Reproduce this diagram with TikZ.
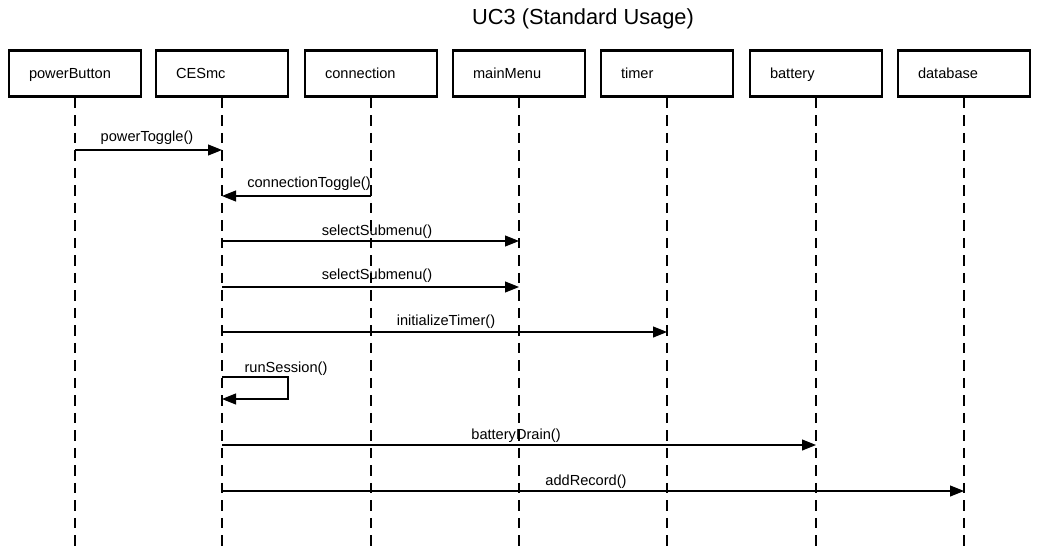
\documentclass[tikz,border=0pt]{standalone}
\usepackage{fontspec}
\setmainfont{Liberation Sans}
\usetikzlibrary{arrows.meta}
\begin{document}
\begin{tikzpicture}[x=1pt,y=-1pt,
  objbox/.style={draw=black,line width=2.6pt,minimum width=132pt,minimum height=46pt,inner sep=0pt,text width=92pt,align=left,font=\fontsize{14.6}{17}\selectfont},
  lifeline/.style={line width=1.3pt,dash pattern=on 10.5pt off 7pt},
  msg/.style={line width=1.1pt,-{Triangle[length=14pt,width=11pt]}},
  lbl/.style={font=\fontsize{14.6}{17}\selectfont,inner sep=0pt,anchor=base}
]
\useasboundingbox (0,0) rectangle (1038,548);
\node[font=\fontsize{21.8}{26}\selectfont,anchor=base] (title) at (583,25) {UC3 (Standard Usage)};
\foreach \n/\t/\x in {pb/powerButton/75,ces/CESmc/222,con/connection/371,mm/mainMenu/519,tm/timer/667,bat/battery/816,db/database/964}{
  \node[objbox] (\n) at (\x,73.5) {\strut\raisebox{-1.5pt}{\t}};
  \coordinate (\n e) at (\x,548);
  \draw[lifeline] (\n.south) -- (\n e);
}
% powerToggle
\coordinate (a1) at (75,150); \coordinate (b1) at (222,150);
\draw[msg] (a1) -- (b1);
\node[lbl] (l1) at (147,142) {powerToggle()};
% connectionToggle
\coordinate (a2) at (371,196); \coordinate (b2) at (222,196);
\draw[msg] (a2) -- (b2);
\node[lbl] (l2) at (309,188) {connectionToggle()};
% selectSubmenu
\coordinate (a3) at (222,241); \coordinate (b3) at (519,241);
\draw[msg] (a3) -- (b3);
\node[lbl] (l3) at (377,235) {selectSubmenu()};
\coordinate (a4) at (222,287); \coordinate (b4) at (519,287);
\draw[msg] (a4) -- (b4);
\node[lbl] (l4) at (377,279) {selectSubmenu()};
% initializeTimer
\coordinate (a5) at (222,332); \coordinate (b5) at (667,332);
\draw[msg] (a5) -- (b5);
\node[lbl] (l5) at (446,325) {initializeTimer()};
% runSession
\coordinate (a6) at (222,377); \coordinate (b6) at (222,399);
\draw[msg] (a6) -- (288,377) -- (288,399) -- (b6);
\node[lbl] (l6) at (286,372) {runSession()};
% batteryDrain
\coordinate (a7) at (222,445); \coordinate (b7) at (816,445);
\draw[msg] (a7) -- (b7);
\node[lbl] (l7) at (516,439) {batteryDrain()};
% addRecord
\coordinate (a8) at (222,491); \coordinate (b8) at (964,491);
\draw[msg] (a8) -- (b8);
\node[lbl] (l8) at (586,485) {addRecord()};
\end{tikzpicture}
\end{document}
